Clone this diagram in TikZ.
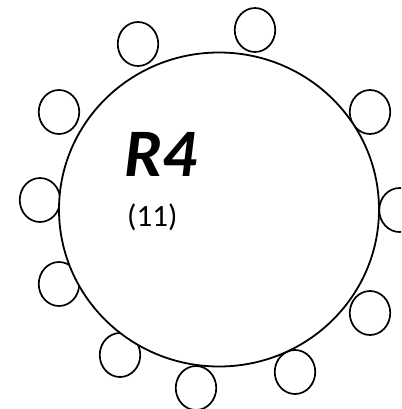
\documentclass[tikz,border=0pt]{standalone}
\usepackage{fontspec}
\setmainfont{Carlito}
\usetikzlibrary{shapes.geometric}
\tikzset{
  seat/.style={draw=black, line width=1.7pt, ellipse, minimum width=40.5pt, minimum height=44pt, inner sep=0pt, fill=white},
  table/.style={draw=black, line width=1.8pt, ellipse, minimum width=320pt, minimum height=314pt, inner sep=0pt},
}
\begin{document}
\begin{tikzpicture}[x=1pt,y=-1pt]
\useasboundingbox (0,0) rectangle (401,409);
\clip (0,0) rectangle (401,409);
\node[seat] (s1) at (138,44) {};
\node[seat] (s2) at (255,30) {};
\node[seat] (s3) at (59,112) {};
\node[seat] (s4) at (370,112) {};
\node[seat] (s5) at (40,200) {};
\node[seat] (s6) at (399.5,210) {};
\node[seat] (s7) at (59,284) {};
\node[seat] (s8) at (370,313) {};
\node[seat] (s9) at (120,355) {};
\node[seat] (s10) at (196,388) {};
\node[seat] (s11) at (295,372) {};
\node[table, fill=white] (t) at (219,209.5) {};
\node[anchor=base west, inner sep=0pt, font=\fontsize{68}{68}\selectfont\bfseries\itshape] (name) at (124,176) {R4};
\node[anchor=base west, inner sep=0pt, font=\fontsize{31}{31}\selectfont] (num) at (127,226) {(11)};
\end{tikzpicture}
\end{document}
